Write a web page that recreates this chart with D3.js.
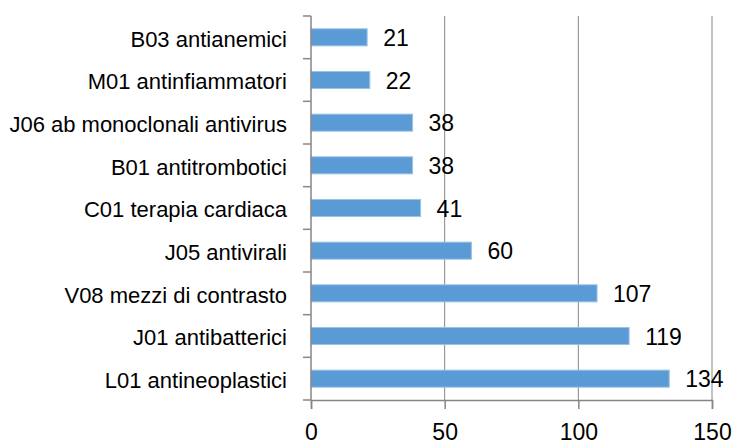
<!DOCTYPE html>
<html>
<head>
<meta charset="utf-8">
<script src="https://cdn.jsdelivr.net/npm/d3@7"></script>
<style>
  body { margin: 0; background: #fff; }
  svg { display: block; font-family: "Liberation Sans", Arial, sans-serif; }
</style>
</head>
<body>
<div id="chart"></div>
<script>
// categories top -> bottom
const categories = [
  'B03 antianemici',
  'M01 antinfiammatori',
  'J06 ab monoclonali antivirus',
  'B01 antitrombotici',
  'C01 terapia cardiaca',
  'J05 antivirali',
  'V08 mezzi di contrasto',
  'J01 antibatterici',
  'L01 antineoplastici'
];
const values = [21, 22, 38, 38, 41, 60, 107, 119, 134];
const xTicks = [0, 50, 100, 150];

const width = 732;
const height = 444;
const margin = { left: 311, right: 20, top: 16, bottom: 44 };

const data = categories.map((c, i) => ({ name: c, value: values[i] }));

const svg = d3.select('#chart').append('svg')
  .attr('width', width)
  .attr('height', height);

const x = d3.scaleLinear()
  .domain([0, 150])
  .range([margin.left, margin.left + 401]);

const y = d3.scaleBand()
  .domain(categories)
  .range([margin.top, height - margin.bottom])
  .paddingInner(0.6)
  .paddingOuter(0.3);

const axisColor = '#868686';

// vertical grid lines
svg.append('g')
  .attr('class', 'grid')
  .selectAll('line')
  .data(xTicks.filter(d => d > 0))
  .enter().append('line')
  .attr('x1', d => x(d))
  .attr('x2', d => x(d))
  .attr('y1', margin.top)
  .attr('y2', height - margin.bottom)
  .attr('stroke', axisColor)
  .attr('stroke-width', 1);

// bars
svg.append('g')
  .selectAll('rect')
  .data(data)
  .enter().append('rect')
  .attr('x', x(0))
  .attr('y', d => y(d.name))
  .attr('width', d => x(d.value) - x(0))
  .attr('height', y.bandwidth())
  .attr('fill', '#5b9bd5')
  .attr('stroke', '#9dc3e6')
  .attr('stroke-width', 1);

// value labels
svg.append('g')
  .selectAll('text')
  .data(data)
  .enter().append('text')
  .attr('x', d => x(d.value) + 16)
  .attr('y', d => y(d.name) + y.bandwidth() / 2)
  .attr('dy', '0.38em')
  .attr('font-size', '23px')
  .attr('fill', '#000')
  .text(d => d.value);

// x axis
const xAxis = d3.axisBottom(x)
  .tickValues(xTicks)
  .tickSize(9)
  .tickPadding(15);

const gx = svg.append('g')
  .attr('transform', `translate(0,${height - margin.bottom})`)
  .call(xAxis);
gx.select('.domain').attr('stroke', axisColor).attr('stroke-width', 1.5);
gx.selectAll('.tick line').attr('stroke', axisColor).attr('stroke-width', 1.5);
gx.selectAll('.tick text')
  .attr('font-size', '23px')
  .attr('fill', '#000');

// y axis: ticks sit on band boundaries, labels centred on bands
const plotH = height - margin.top - margin.bottom;
const gy = svg.append('g')
  .attr('transform', `translate(${x(0)},0)`);
gy.append('line')
  .attr('y1', margin.top)
  .attr('y2', height - margin.bottom)
  .attr('stroke', axisColor)
  .attr('stroke-width', 1.5);
gy.selectAll('.ytick')
  .data(d3.range(categories.length + 1))
  .enter().append('line')
  .attr('class', 'ytick')
  .attr('x1', -8)
  .attr('x2', 0)
  .attr('y1', i => margin.top + i * plotH / categories.length)
  .attr('y2', i => margin.top + i * plotH / categories.length)
  .attr('stroke', axisColor)
  .attr('stroke-width', 1.5);
gy.selectAll('.ylabel')
  .data(categories)
  .enter().append('text')
  .attr('class', 'ylabel')
  .attr('x', -24)
  .attr('y', d => y(d) + y.bandwidth() / 2)
  .attr('dy', '0.42em')
  .attr('text-anchor', 'end')
  .attr('font-size', '22px')
  .attr('fill', '#000')
  .text(d => d);
</script>
</body>
</html>
